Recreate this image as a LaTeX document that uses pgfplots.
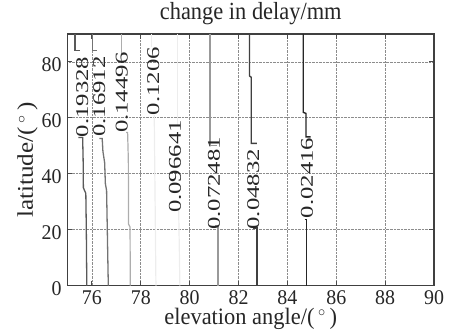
\documentclass[border=0pt]{standalone}
\usepackage{pgfplots}
\pgfplotsset{compat=1.18}
\usepackage{fontspec}
\setmainfont{Liberation Serif}
\newcommand{\tickfont}{\fontsize{20}{22}\selectfont}
\newcommand{\labfont}{\fontsize{22.5}{26}\selectfont}
\newcommand{\cfont}{\fontsize{18}{20}\selectfont}
\begin{document}
\begin{tikzpicture}
\begin{axis}[
  scale only axis,
  width=366.5bp, height=251.7bp,
  xmin=75, xmax=90, ymin=0, ymax=90,
  xtick={76,78,...,90}, ytick={0,20,...,80},
  tick align=inside, tickpos=both,
  major tick length=5bp,
  grid=major,
  major grid style={densely dotted, line width=0.8bp, black!45},
  axis line style={line width=1.3bp, black!75},
  every tick/.style={line width=1bp, black!70},
  /pgf/number format/assume math mode=true,
  ticklabel style={font=\tickfont, text=black!85, inner sep=0pt},
  xticklabel style={anchor=base, yshift=-18.5bp, yscale=1.05},
  yticklabel style={anchor=east, xshift=-5.8bp, yshift=-3bp, yscale=1.05},
  title={change in delay/mm},
  title style={font=\labfont, text=black!85, at={(axis description cs:0.5,1.032)}, anchor=base, yscale=1.1},
  xlabel={elevation angle/(\,$^\circ$\,)},
  xlabel style={font=\labfont, text=black!85, inner sep=0pt, at={(axis description cs:0.5,-0.155)}, anchor=base, yscale=1.05},
  ylabel={latitude/(\,$^\circ$\,)},
  ylabel style={font=\labfont, text=black!85, at={(axis description cs:-0.109,0.5)}, anchor=center, rotate=0, xscale=1.12},
  clip=true,
]
% 0.02416
\addplot[black!85, line width=1.4bp] coordinates {(84.65,90) (84.65,62) (84.76,61.6) (84.76,53.2) (84.95,53.2)};
\addplot[black!85, line width=1.4bp] coordinates {(84.70,23.6) (84.79,23.6) (84.79,0)};
% 0.04832
\addplot[black!75, line width=1.4bp] coordinates {(82.45,90) (82.45,75) (82.52,74.5) (82.52,50.9) (82.75,50.9)};
\addplot[black!75, line width=1.4bp] coordinates {(82.6,20.6) (82.75,20.6) (82.75,0)};
% 0.072481
\addplot[black!40, line width=1.2bp] coordinates {(80.83,90) (80.83,50.2) (81.1,50.2)};
\addplot[black!40, line width=1.2bp] coordinates {(81.04,21.6) (81.16,21.6) (81.16,0)};
% 0.096641
\addplot[black!7, line width=1.2bp] coordinates {(79.5,90) (79.5,57.5)};
\addplot[black!7, line width=1.2bp] coordinates {(79.55,27.5) (79.6,0)};
% 0.1206
\addplot[black!7, line width=1.2bp] coordinates {(78.45,90) (78.45,85.5)};
\addplot[black!7, line width=1.2bp] coordinates {(78.55,61) (78.62,0)};
% 0.14496
\addplot[black!32, line width=1.2bp] coordinates {(77.22,90) (77.22,83)};
\addplot[black!32, line width=1.2bp] coordinates {(77.4,54.8) (77.46,54.8) (77.49,45) (77.5,22) (77.56,21) (77.57,0)};
% 0.16912
\addplot[black!55, line width=1.3bp] coordinates {(76.02,90) (76.02,84.2) (76.2,84.2)};
\addplot[black!55, line width=1.3bp] coordinates {(76.3,52.6) (76.42,52.6) (76.45,48) (76.52,44) (76.55,36.5) (76.6,34) (76.67,0)};
% 0.19328
\addplot[black!65, line width=1.3bp] coordinates {(75.31,90) (75.31,84.2) (75.5,84.2)};
\addplot[black!65, line width=1.3bp] coordinates {(75.45,53) (75.62,53) (75.64,45) (75.65,35) (75.75,33) (75.77,20) (75.79,0)};
% contour labels
\node[rotate=90, xscale=1.38, font=\cfont, text=black!85, inner sep=0] at (axis cs:84.80,38.5) {0.02416};
\node[rotate=90, xscale=1.38, font=\cfont, text=black!85, inner sep=0] at (axis cs:82.60,34.5) {0.04832};
\node[rotate=90, xscale=1.38, font=\cfont, text=black!85, inner sep=0] at (axis cs:81.00,36.6) {0.072481};
\node[rotate=90, xscale=1.38, font=\cfont, text=black!85, inner sep=0] at (axis cs:79.40,42.6) {0.096641};
\node[rotate=90, xscale=1.38, font=\cfont, text=black!85, inner sep=0] at (axis cs:78.51,73.2) {0.1206};
\node[rotate=90, xscale=1.38, font=\cfont, text=black!85, inner sep=0] at (axis cs:77.22,69.0) {0.14496};
\node[rotate=90, xscale=1.38, font=\cfont, text=black!85, inner sep=0] at (axis cs:76.30,67.6) {0.16912};
\node[rotate=90, xscale=1.38, font=\cfont, text=black!85, inner sep=0] at (axis cs:75.61,67.5) {0.19328};
\end{axis}
\pgfresetboundingbox
\path ([shift={(-67.5bp,-45.3bp)}]current axis.south west) rectangle ([shift={(18bp,34bp)}]current axis.north east);
\end{tikzpicture}
\end{document}
